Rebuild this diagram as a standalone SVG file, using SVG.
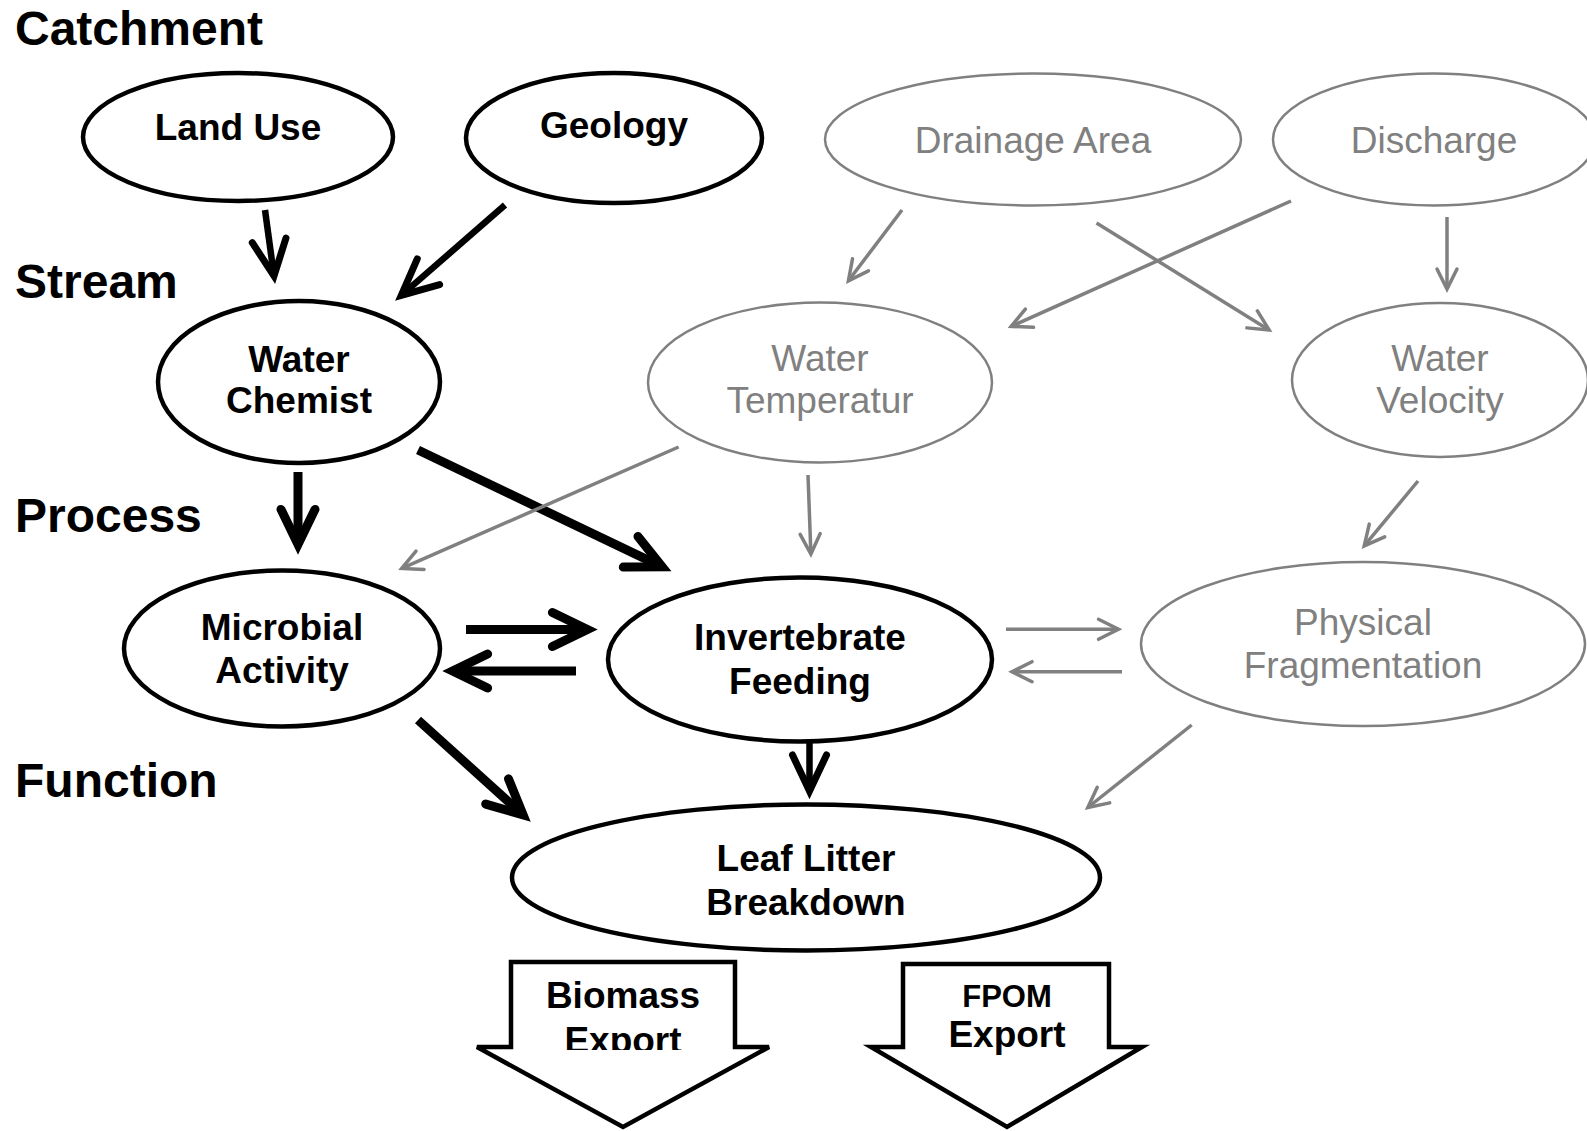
<svg xmlns="http://www.w3.org/2000/svg" width="1587" height="1131" viewBox="0 0 1587 1131">
  <style>
    text { font-family: "Liberation Sans", Arial, sans-serif; text-anchor: middle; }
    .sec { font-size: 48px; font-weight: bold; text-anchor: start; fill: #000; }
    .bn ellipse { fill: #fff; stroke: #000; stroke-width: 4.5; }
    .bn text { font-size: 37px; font-weight: bold; fill: #000; }
    .gn ellipse { fill: #fff; stroke: #808080; stroke-width: 2.5; }
    .gn text { font-size: 37px; fill: #808080; }
    .bk9 { stroke: #000; stroke-width: 9; fill: none; marker-end: url(#ah9); }
    .bk6 { stroke: #000; stroke-width: 6.5; fill: none; marker-end: url(#ah6); }
    .gr { stroke: #808080; stroke-width: 3.5; fill: none; marker-end: url(#ahg); }
    .exp path { fill: #fff; stroke: #000; stroke-width: 4.5; stroke-linejoin: miter; }
    .exp text { font-size: 37px; font-weight: bold; fill: #000; }
  </style>
  <defs>
    <marker id="ah9" markerUnits="userSpaceOnUse" viewBox="-50 -30 70 60" refX="0" refY="0" markerWidth="70" markerHeight="60" orient="auto" overflow="visible">
      <path d="M-35,-17 L0,0 L-35,17" fill="none" stroke="#000" stroke-width="9" stroke-linecap="round" stroke-linejoin="miter"/>
    </marker>
    <marker id="ah6" markerUnits="userSpaceOnUse" viewBox="-50 -30 70 60" refX="0" refY="0" markerWidth="70" markerHeight="60" orient="auto" overflow="visible">
      <path d="M-36,-17 L0,0 L-36,17" fill="none" stroke="#000" stroke-width="7" stroke-linecap="round" stroke-linejoin="miter"/>
    </marker>
    <marker id="ahg" markerUnits="userSpaceOnUse" viewBox="-30 -20 40 40" refX="0" refY="0" markerWidth="40" markerHeight="40" orient="auto" overflow="visible">
      <path d="M-20,-10 L0,0 L-20,10" fill="none" stroke="#808080" stroke-width="3.5" stroke-linecap="round" stroke-linejoin="miter"/>
    </marker>
    <clipPath id="clipBio">
      <rect x="500" y="960" width="250" height="90"/>
    </clipPath>
  </defs>

  <rect width="1587" height="1131" fill="#fff"/>

  <g id="section-labels">
    <text class="sec" x="15" y="45">Catchment</text>
    <text class="sec" x="15" y="298">Stream</text>
    <text class="sec" x="15" y="532">Process</text>
    <text class="sec" x="15" y="797">Function</text>
  </g>

  <g id="connectors">
    <line class="bk6" x1="265" y1="210" x2="274" y2="276"/>
    <line class="bk6" x1="505" y1="205" x2="401.3" y2="295.4"/>
    <line class="bk9" x1="298" y1="472" x2="298" y2="544.4"/>
    <line class="bk9" x1="418" y1="450" x2="662.2" y2="566.9"/>
    <line class="bk9" x1="466" y1="629.5" x2="587.4" y2="629.5"/>
    <line class="bk9" x1="576" y1="671" x2="452.6" y2="671"/>
    <line class="bk9" x1="418" y1="720" x2="523.1" y2="814.9"/>
    <line class="bk6" x1="809.5" y1="743" x2="809.5" y2="791"/>

    <line class="gr" x1="902" y1="210" x2="848.4" y2="280.8"/>
    <line class="gr" x1="1096.5" y1="223" x2="1269.1" y2="329.9"/>
    <line class="gr" x1="1291" y1="201" x2="1011.2" y2="326.4"/>
    <line class="gr" x1="1447" y1="217" x2="1447" y2="289"/>
    <line class="gr" x1="678.6" y1="447" x2="401.7" y2="568.4"/>
    <line class="gr" x1="808" y1="475" x2="810.9" y2="554"/>
    <line class="gr" x1="1418" y1="481" x2="1364.2" y2="545.9"/>
    <line class="gr" x1="1006" y1="629.3" x2="1118.5" y2="629.3"/>
    <line class="gr" x1="1122" y1="671.7" x2="1012" y2="671.7"/>
    <line class="gr" x1="1191.7" y1="725" x2="1087.8" y2="807.5"/>
  </g>

  <g id="land-use" class="bn">
    <ellipse cx="238" cy="137" rx="155" ry="64"/>
    <text x="238" y="140">Land Use</text>
  </g>
  <g id="geology" class="bn">
    <ellipse cx="614" cy="138" rx="148" ry="65"/>
    <text x="614" y="138">Geology</text>
  </g>
  <g id="drainage-area" class="gn">
    <ellipse cx="1033" cy="139.5" rx="208" ry="66"/>
    <text x="1033" y="153">Drainage Area</text>
  </g>
  <g id="discharge" class="gn">
    <ellipse cx="1434" cy="139.5" rx="161" ry="66"/>
    <text x="1434" y="153">Discharge</text>
  </g>
  <g id="water-chemist" class="bn">
    <ellipse cx="299" cy="382" rx="141" ry="81"/>
    <text x="299" y="372">Water</text>
    <text x="299" y="413">Chemist</text>
  </g>
  <g id="water-temperature" class="gn">
    <ellipse cx="820" cy="382.5" rx="172" ry="80"/>
    <text x="820" y="371">Water</text>
    <text x="820" y="413">Temperatur</text>
  </g>
  <g id="water-velocity" class="gn">
    <ellipse cx="1440" cy="380" rx="148" ry="77"/>
    <text x="1440" y="371">Water</text>
    <text x="1440" y="413">Velocity</text>
  </g>
  <g id="microbial-activity" class="bn">
    <ellipse cx="282" cy="648.5" rx="158" ry="78"/>
    <text x="282" y="640">Microbial</text>
    <text x="282" y="683">Activity</text>
  </g>
  <g id="invertebrate-feeding" class="bn">
    <ellipse cx="800" cy="659.5" rx="192" ry="82"/>
    <text x="800" y="650">Invertebrate</text>
    <text x="800" y="694">Feeding</text>
  </g>
  <g id="physical-fragmentation" class="gn">
    <ellipse cx="1363" cy="644" rx="222" ry="82"/>
    <text x="1363" y="635">Physical</text>
    <text x="1363" y="678">Fragmentation</text>
  </g>
  <g id="leaf-litter-breakdown" class="bn">
    <ellipse cx="806" cy="877.5" rx="294" ry="73"/>
    <text x="806" y="871">Leaf Litter</text>
    <text x="806" y="915">Breakdown</text>
  </g>

  <g id="biomass-export" class="exp">
    <path d="M511,962 H735 V1047 H769 L623,1127 L477,1047 H511 Z"/>
    <text x="623" y="1008">Biomass</text>
    <text x="623" y="1052.5" clip-path="url(#clipBio)">Export</text>
  </g>
  <g id="fpom-export" class="exp">
    <path d="M903,964 H1109 V1047 H1142 L1007,1127 L871,1047 H903 Z"/>
    <text x="1007" y="1006.7" style="font-size:31px">FPOM</text>
    <text x="1007" y="1046.7">Export</text>
  </g>
</svg>
